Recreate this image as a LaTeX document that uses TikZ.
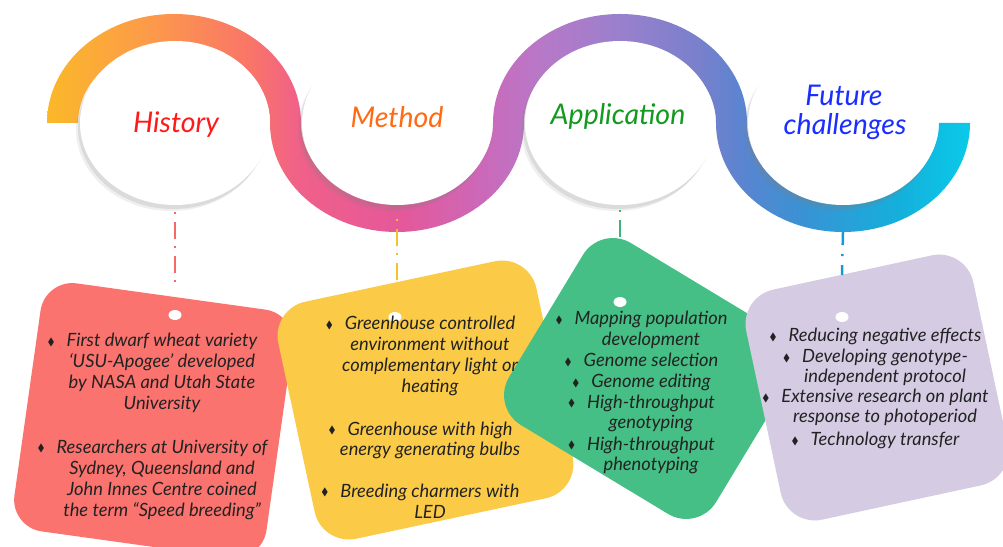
\documentclass[tikz,border=0pt]{standalone}
\usepackage{amssymb}
\usepackage{fontspec}
\setmainfont{Lato}
\usetikzlibrary{shapes.geometric,shadows}

\definecolor{redbox}{HTML}{FA736E}
\definecolor{yellowbox}{HTML}{FBCB48}
\definecolor{greenbox}{HTML}{45BF85}
\definecolor{purplebox}{HTML}{D5CBE3}
\definecolor{histcol}{HTML}{FF1A1A}
\definecolor{methcol}{HTML}{FF6A13}
\definecolor{appcol}{HTML}{129A1E}
\definecolor{futcol}{HTML}{1A2EFF}
\definecolor{txtcol}{HTML}{222222}
\definecolor{hline}{HTML}{F46A6A}
\definecolor{mline}{HTML}{F5C22A}
\definecolor{aline}{HTML}{3DB37A}
\definecolor{fline}{HTML}{1A98D5}

\definecolor{sa}{HTML}{FBB829}
\definecolor{sb}{HTML}{FC9A4A}
\definecolor{sc}{HTML}{F97568}
\definecolor{sd}{HTML}{F0608A}
\definecolor{se}{HTML}{E5589A}
\definecolor{sf}{HTML}{CC68B8}
\definecolor{sg}{HTML}{B878C8}
\definecolor{sh}{HTML}{9A80CC}
\definecolor{si}{HTML}{7880CC}
\definecolor{sj}{HTML}{5C84D0}
\definecolor{sk}{HTML}{3A92D4}
\definecolor{sl}{HTML}{14B0DC}
\definecolor{sm}{HTML}{0ACAE8}

\pgfdeclarehorizontalshading{snake}{100bp}{color(0bp)=(sa); color(25bp)=(sa); color(30.6bp)=(sb); color(36bp)=(sc); color(38.7bp)=(sd); color(44.1bp)=(se); color(48.5bp)=(sf); color(51.7bp)=(sg); color(56bp)=(sh); color(60.4bp)=(si); color(62.5bp)=(sj); color(65.8bp)=(sk); color(71.2bp)=(sl); color(75bp)=(sm); color(100bp)=(sm)}

\newcommand\itembul{\llap{\raisebox{1.8pt}{\fontsize{10.5}{10}\selectfont$\blacklozenge$}\hspace{12pt}}}

\tikzset{
  disc/.style={ellipse, fill=white, minimum width=190pt, minimum height=164pt, inner sep=0pt,
    drop shadow={shadow xshift=-2pt, shadow yshift=-4pt, opacity=0.18},
    drop shadow={shadow xshift=-4pt, shadow yshift=-6pt, opacity=0.12}},
  head/.style={font=\itshape\fontsize{28.5}{30}\selectfont, anchor=base, inner sep=0pt},
  item/.style={font=\itshape\fontsize{18.3}{21}\selectfont, text=txtcol, align=center, anchor=base, inner sep=0pt},
  pitem/.style={item, font=\itshape\fontsize{18.3}{20}\selectfont},
  link/.style={line width=2.5pt, dash pattern=on 2pt off 8pt on 17pt off 7pt},
  flink/.style={line width=2.5pt, dash pattern=on 13pt off 9pt on 2pt off 9pt},
  dot/.style={fill=white}
}

\begin{document}
\begin{tikzpicture}[x=1pt,y=1pt]
\useasboundingbox (0,0) rectangle (1003,546);
\fill[white] (0,0) rectangle (1003,546);
\clip (0,0) rectangle (1003,546);

% snake band
\shade[shading=snake]
  (47,423) arc[start angle=180,end angle=0,x radius=127,y radius=109]
  arc[start angle=180,end angle=360,x radius=96,y radius=79]
  arc[start angle=180,end angle=0,x radius=127,y radius=109]
  arc[start angle=180,end angle=360,x radius=96,y radius=79]
  -- (970,423)
  arc[start angle=0,end angle=-180,x radius=127,y radius=109]
  arc[start angle=0,end angle=180,x radius=96,y radius=79]
  arc[start angle=0,end angle=-180,x radius=127,y radius=109]
  arc[start angle=0,end angle=180,x radius=96,y radius=79]
  -- cycle;

% white discs
\node[disc] (hist) at (175,423) {};
\node[disc] (meth) at (397,423) {};
\node[disc] (appl) at (620,423) {};
\node[disc] (futu) at (843,423) {};

% headings
\node[head, text=histcol] (histlabel) at (176,413) {History};
\node[head, text=methcol] (methlabel) at (397,418) {Method};
\node[head, text=appcol] (appllabel) at (618,421) {Application};
\node[head, text=futcol] (futulabel1) at (844,440) {Future};
\node[head, text=futcol] (futulabel2) at (845,411) {challenges};

% boxes
\fill[redbox, rounded corners=32pt] (45,267) -- (297,232) -- (262,-16) -- (10,19) -- cycle;
\fill[yellowbox, rounded corners=35pt] (271,237) -- (529,292) -- (580,55) -- (322,0) -- cycle;
\fill[greenbox, rounded corners=35pt] (601,321) -- (808,196) -- (698,14) -- (491,139) -- cycle;
\fill[purplebox, rounded corners=35pt] (739,249) -- (966,298) -- (1015,68) -- (788,19) -- cycle;

% box tops for connectors
\coordinate (redtop) at (175,259);
\coordinate (yeltop) at (397,264);
\coordinate (grntop) at (620,309);
\coordinate (purtop) at (842,271);

% connectors
\draw[link, hline] ([yshift=-7pt]hist.south) -- (redtop);
\draw[link, mline] ([yshift=-14pt]meth.south) -- (yeltop);
\draw[link, aline] ([yshift=-5pt]appl.south) -- (grntop);
\draw[flink, fline] ([yshift=-27pt]futu.south) -- (purtop);

% white dots
\fill[dot] (175,231) ellipse[x radius=6.5, y radius=5];
\fill[dot] (395,229) ellipse[x radius=6.5, y radius=5];
\fill[dot] (620,244) ellipse[x radius=6.5, y radius=5];
\fill[dot] (842,229) ellipse[x radius=6.5, y radius=5];

% red texts (anchored at the baseline of the last line)
\node[item] (r1) at (162,136) {\itembul First dwarf wheat variety\\ ‘USU-Apogee’ developed\\ by NASA and Utah State\\ University};
\node[item] (r2) at (162,30) {\itembul Researchers at University of\\ Sydney, Queensland and\\ John Innes Centre coined\\ the term “Speed breeding”};

% yellow texts
\node[item] (y1) at (430,153) {\itembul Greenhouse controlled\\ environment without\\ complementary light or\\ heating};
\node[item] (y2) at (430,90) {\itembul Greenhouse with high\\ energy generating bulbs};
\node[item] (y3) at (430,28) {\itembul Breeding charmers with\\ LED};

% green texts
\node[item] (g1) at (651,200) {\itembul Mapping population\\ development};
\node[item] (g2) at (651,179) {\itembul Genome selection};
\node[item] (g3) at (651,158) {\itembul Genome editing};
\node[item] (g4) at (651,117) {\itembul High-throughput\\ genotyping};
\node[item] (g5) at (651,75) {\itembul High-throughput\\ phenotyping};

% purple texts
\node[pitem] (p1) at (885,204) {\itembul Reducing negative effects};
\node[pitem] (p2) at (885,163) {\itembul Developing genotype-\\ independent protocol};
\node[pitem] (p3) at (885,123) {\itembul Extensive research on plant\\ response to photoperiod};
\node[pitem] (p4) at (885,100) {\itembul Technology transfer};
\end{tikzpicture}
\end{document}
